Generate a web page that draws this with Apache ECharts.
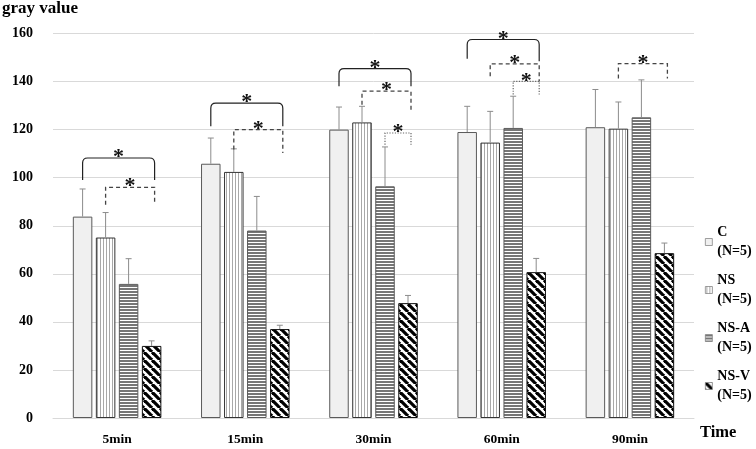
<!DOCTYPE html>
<html><head><meta charset="utf-8">
<script src="https://cdn.jsdelivr.net/npm/echarts@6/dist/echarts.min.js"></script>
<style>html,body{margin:0;padding:0;background:#fff}#c{width:756px;height:449px}</style>
</head><body><div id="c"></div>
<script>
// ---------- data ----------
const categories = ['5min', '15min', '30min', '60min', '90min'];
const groupNames = ['C', 'NS', 'NS-A', 'NS-V'];
const groupN = [5, 5, 5, 5];
const meanC   = [83.8, 105.8, 120.0, 119.0, 121.0];
const meanNS  = [75.1, 102.4, 123.0, 114.6, 120.4];
const meanNSA = [55.8, 78.0, 96.4, 120.7, 125.1];
const meanNSV = [30.0, 37.0, 47.8, 60.7, 68.6];
const sdC   = [11.5, 10.7, 9.4, 10.7, 15.7];
const sdNS  = [10.4, 9.6, 6.7, 13.0, 11.1];
const sdNSA = [10.5, 14.2, 16.4, 13.2, 15.6];
const sdNSV = [2.1, 1.6, 3.2, 5.7, 4.2];
const yTicks = [0, 20, 40, 60, 80, 100, 120, 140, 160];
// significance brackets: [category, fromGroup, toGroup, top, leftLegEnd, rightLegEnd]
const bracketRows = [
  [0, 0, 3, 108.2, 99.0, 99.0],
  [0, 1, 3, 96.0, 88.7, 88.7],
  [1, 0, 3, 131.0, 121.4, 121.4],
  [1, 1, 3, 120.0, 111.7, 110.3],
  [2, 0, 3, 145.4, 138.0, 138.0],
  [2, 1, 3, 136.0, 130.4, 127.6],
  [2, 2, 3, 118.6, 113.7, 113.7],
  [3, 0, 3, 157.5, 149.5, 148.5],
  [3, 1, 3, 147.4, 142.2, 140.0],
  [3, 2, 3, 140.1, 134.6, 134.6],
  [4, 1, 3, 147.5, 141.3, 141.3]
];
const bracketKind = ['solid','dashed','solid','dashed','solid','dashed','dotted','solid','dashed','dotted','dashed'];
const bracketMark = '*';

// ---------- styling ----------
const FONT = '"Liberation Serif", "Times New Roman", serif';
const BAR_W = 19.5;
const STEP = 23;

function pat(w, h, draw) {
  const c = document.createElement('canvas');
  c.width = w; c.height = h;
  const g = c.getContext('2d');
  g.fillStyle = '#fff'; g.fillRect(0, 0, w, h);
  draw(g);
  return { image: c, repeat: 'repeat' };
}
const fillC = '#f0f0f0';
const fillNS = pat(3, 4, g => { g.fillStyle = '#a8a8a8'; g.fillRect(1, 0, 1, 4); });
const fillNSA = pat(4, 3, g => { g.fillStyle = '#767676'; g.fillRect(0, 0, 4, 2); });
const fillNSV = pat(8, 8, g => {
  g.strokeStyle = '#000'; g.lineWidth = 3.2;
  for (const k of [-8, 0, 8]) { g.beginPath(); g.moveTo(k, 0); g.lineTo(k + 8, 8); g.stroke(); }
});
const fills = [fillC, fillNS, fillNSA, fillNSV];
const borders = ['#5a5a5a', '#333', '#5a5a5a', '#111'];
const means = [meanC, meanNS, meanNSA, meanNSV];
const sds = [sdC, sdNS, sdNSA, sdNSV];

const barSeries = groupNames.map((n, i) => ({
  name: n, type: 'bar', barWidth: BAR_W, barGap: '18%',
  data: means[i],
  itemStyle: { color: fills[i], borderColor: borders[i], borderWidth: 1 },
  z: 2
}));

const errData = [];
means.forEach((m, gi) => m.forEach((v, ci) => errData.push([ci, gi, v, v + sds[gi][ci]])));

const errSeries = {
  type: 'custom', name: 'err', z: 3, silent: true, clip: false,
  data: errData, encode: { x: 0, y: 3 },
  renderItem: (params, api) => {
    const ci = api.value(0), gi = api.value(1);
    const p0 = api.coord([ci, api.value(2)]);
    const p1 = api.coord([ci, api.value(3)]);
    const x = p0[0] + (gi - 1.5) * STEP;
    const st = { stroke: '#8c8c8c', lineWidth: 1 };
    return { type: 'group', children: [
      { type: 'line', shape: { x1: x, y1: p0[1], x2: x, y2: p1[1] }, style: st },
      { type: 'line', shape: { x1: x - 3, y1: p1[1], x2: x + 3, y2: p1[1] }, style: st }
    ]};
  }
};

const bracketSeries = {
  type: 'custom', name: 'sig', z: 4, silent: true, clip: false,
  data: bracketRows, encode: { x: 0, y: 3 },
  renderItem: (params, api) => {
    const ci = api.value(0), from = api.value(1), to = api.value(2);
    const cTop = api.coord([ci, api.value(3)]);
    const yT = cTop[1];
    const yL = api.coord([ci, api.value(4)])[1];
    const yR = api.coord([ci, api.value(5)])[1];
    const xL = cTop[0] + (from - 1.5) * STEP;
    const xR = cTop[0] + (to - 1.5) * STEP + 3;
    const kind = bracketKind[params.dataIndex];
    let shapeEl;
    if (kind === 'solid') {
      const r = 5;
      shapeEl = { type: 'path', shape: { pathData:
        `M${xL} ${yL} L${xL} ${yT + r} Q${xL} ${yT} ${xL + r} ${yT} L${xR - r} ${yT} Q${xR} ${yT} ${xR} ${yT + r} L${xR} ${yR}` },
        style: { fill: null, stroke: '#222', lineWidth: 1.2 } };
    } else {
      shapeEl = { type: 'polyline', shape: { points: [[xL, yL], [xL, yT], [xR, yT], [xR, yR]] },
        style: { fill: null, stroke: kind === 'dashed' ? '#444' : '#666', lineWidth: kind === 'dashed' ? 1.3 : 1.2,
          lineDash: kind === 'dashed' ? [4, 3] : [1.2, 1.5] } };
    }
    return { type: 'group', children: [shapeEl, {
      type: 'text', style: { text: bracketMark, x: (xL + xR) / 2, y: yT - 0.5, align: 'center', verticalAlign: 'middle',
        font: 'bold 22px ' + FONT, fill: '#111' } }] };
  }
};

const chart = echarts.init(document.getElementById('c'), null, { renderer: 'canvas' });
chart.setOption({
  animation: false,
  backgroundColor: '#fff',
  title: { text: 'gray value', left: 2, top: 0, padding: 0,
    textStyle: { fontFamily: FONT, fontWeight: 'bold', fontSize: 17, color: '#000' } },
  grid: { left: 53, right: 62, top: 33.5, bottom: 31, containLabel: false },
  legend: {
    data: groupNames, orient: 'vertical', left: 705, top: 213.5, padding: 0,
    itemWidth: 7, itemHeight: 7, itemGap: -9, icon: 'rect',
    itemStyle: { borderWidth: 0.7, borderColor: '#777' },
    formatter: name => name + '\n(N=' + groupN[groupNames.indexOf(name)] + ')',
    textStyle: { fontFamily: FONT, fontWeight: 'bold', fontSize: 14, lineHeight: 19, color: '#000', padding: [19, 0, 0, 0] }
  },
  xAxis: {
    type: 'category', data: categories,
    name: 'Time', nameLocation: 'end', nameGap: 6,
    nameTextStyle: { fontFamily: FONT, fontWeight: 'bold', fontSize: 16.5, color: '#000', verticalAlign: 'top', padding: [6, 0, 0, 0] },
    axisLine: { lineStyle: { color: '#d9d9d9', width: 1 } },
    axisTick: { show: false },
    axisLabel: { fontFamily: FONT, fontWeight: 'bold', fontSize: 13.5, color: '#000', margin: 15 }
  },
  yAxis: {
    type: 'value', min: yTicks[0], max: yTicks[yTicks.length - 1], interval: yTicks[1] - yTicks[0],
    axisLine: { show: false }, axisTick: { show: false },
    splitLine: { lineStyle: { color: '#d9d9d9', width: 1 } },
    axisLabel: { fontFamily: FONT, fontWeight: 'bold', fontSize: 14, color: '#000', margin: 20 }
  },
  series: [...barSeries, errSeries, bracketSeries]
});
</script>
</body></html>
